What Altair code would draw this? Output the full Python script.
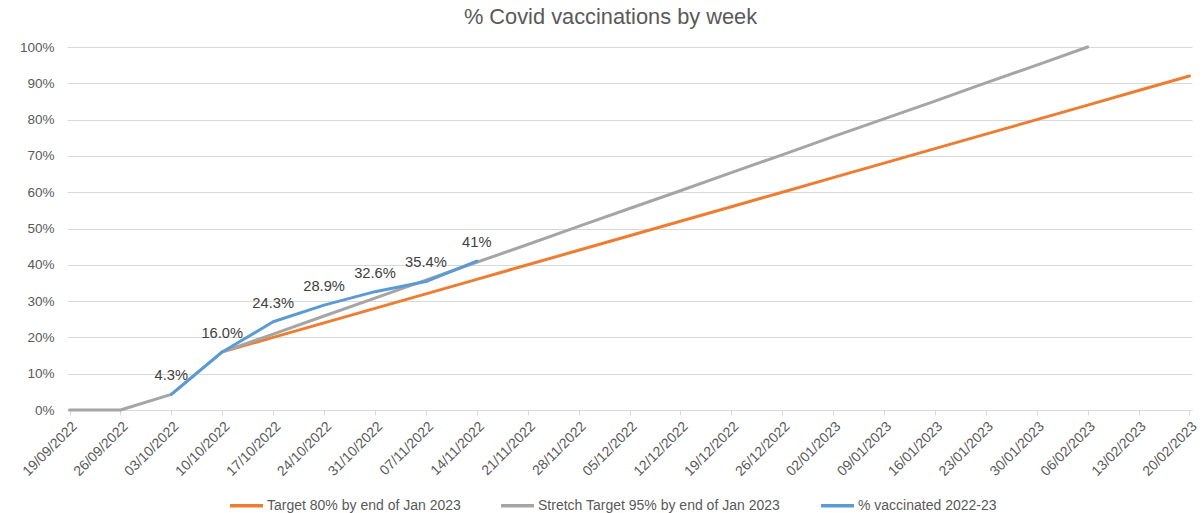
import altair as alt
import pandas as pd

weeks = ["19/09/2022", "26/09/2022", "03/10/2022", "10/10/2022", "17/10/2022",
         "24/10/2022", "31/10/2022", "07/11/2022", "14/11/2022", "21/11/2022",
         "28/11/2022", "05/12/2022", "12/12/2022", "19/12/2022", "26/12/2022",
         "02/01/2023", "09/01/2023", "16/01/2023", "23/01/2023", "30/01/2023",
         "06/02/2023", "13/02/2023", "20/02/2023"]

target = [None, None, None, 16, 20, 24, 28, 32, 36, 40, 44, 48, 52, 56, 60,
          64, 68, 72, 76, 80, 84, 88, 92]
stretch = [0, 0, 4.3, 16, 20.9, 25.9, 30.8, 35.8, 40.7, 45.6, 50.6, 55.5,
           60.4, 65.4, 70.3, 75.3, 80.2, 85.1, 90.1, 95.0, 100, None, None]
vaccinated = [None, None, 4.3, 16.0, 24.3, 28.9, 32.6, 35.4, 41.0, None, None,
              None, None, None, None, None, None, None, None, None, None, None, None]
vacc_labels = [None, None, "4.3%", "16.0%", "24.3%", "28.9%", "32.6%", "35.4%", "41%",
               None, None, None, None, None, None, None, None, None, None, None,
               None, None, None]
y_ticks = [0, 10, 20, 30, 40, 50, 60, 70, 80, 90, 100]

series_names = ["Target 80% by end of Jan 2023",
                "Stretch Target 95% by end of Jan 2023",
                "% vaccinated 2022-23"]
series_colors = ["#ED7D31", "#A5A5A5", "#5B9BD5"]

rows = []
for name, vals in zip(series_names, [target, stretch, vaccinated]):
    for i, (w, v) in enumerate(zip(weeks, vals)):
        if v is not None:
            rows.append({"week": w, "value": v, "series": name, "order": i})
df = pd.DataFrame(rows)

lab_rows = [{"week": w, "value": v, "label": l}
            for w, v, l in zip(weeks, vaccinated, vacc_labels) if l is not None]
df_lab = pd.DataFrame(lab_rows)

FONT = "Liberation Sans"

x_axis = alt.Axis(labelAngle=-45, labelFontSize=14, labelColor="#595959",
                  labelFont=FONT, domainColor="#d9d9d9", tickColor="#d9d9d9",
                  tickSize=5, labelPadding=4, grid=False, labelOverlap=False)
x_scale = alt.Scale(type="point", padding=0.05)
y_axis = alt.Axis(values=y_ticks, tickCount=20, labelExpr="datum.value + '%'",
                  labelFontSize=13.5, labelColor="#595959", labelFont=FONT,
                  domain=False, ticks=False, gridColor="#d9d9d9",
                  labelPadding=13, labelOverlap=False)
y_scale = alt.Scale(domain=[0, 100], nice=False)

lines = alt.Chart(df).mark_line(strokeWidth=3, strokeJoin="round", strokeCap="round").encode(
    x=alt.X("week:O", sort=weeks, title=None, scale=x_scale, axis=x_axis),
    y=alt.Y("value:Q", title=None, scale=y_scale, axis=y_axis),
    color=alt.Color("series:N", scale=alt.Scale(domain=series_names, range=series_colors),
                    legend=alt.Legend(title=None, orient="none", direction="horizontal",
                                      legendX=161, legendY=440,
                                      symbolType="stroke", symbolSize=1089,
                                      symbolStrokeWidth=3.5, labelFontSize=14,
                                      labelColor="#595959", labelFont=FONT,
                                      labelLimit=0,
                                      columnPadding=33, labelOffset=2)),
    order="order:Q",
    detail="series:N",
)

labels = alt.Chart(df_lab).mark_text(fontSize=14.7, color="#404040", font=FONT, dy=-18).encode(
    x=alt.X("week:O", sort=weeks, title=None, scale=x_scale, axis=x_axis),
    y=alt.Y("value:Q", title=None, scale=y_scale, axis=y_axis),
    text="label:N",
)

chart = alt.layer(lines, labels).properties(
    width=1125, height=363,
    autosize=alt.AutoSizeParams(type="none"),
    padding={"left": 67, "top": 47, "right": 12, "bottom": 103},
    title=alt.TitleParams("% Covid vaccinations by week", fontSize=21.8, font=FONT,
                          color="#595959", fontWeight="normal", anchor="middle",
                          dx=-19, offset=11),
).configure_view(stroke=None).configure_legend(padding=0)

chart.save("out.html", embed_options={"renderer": "svg", "actions": False})
